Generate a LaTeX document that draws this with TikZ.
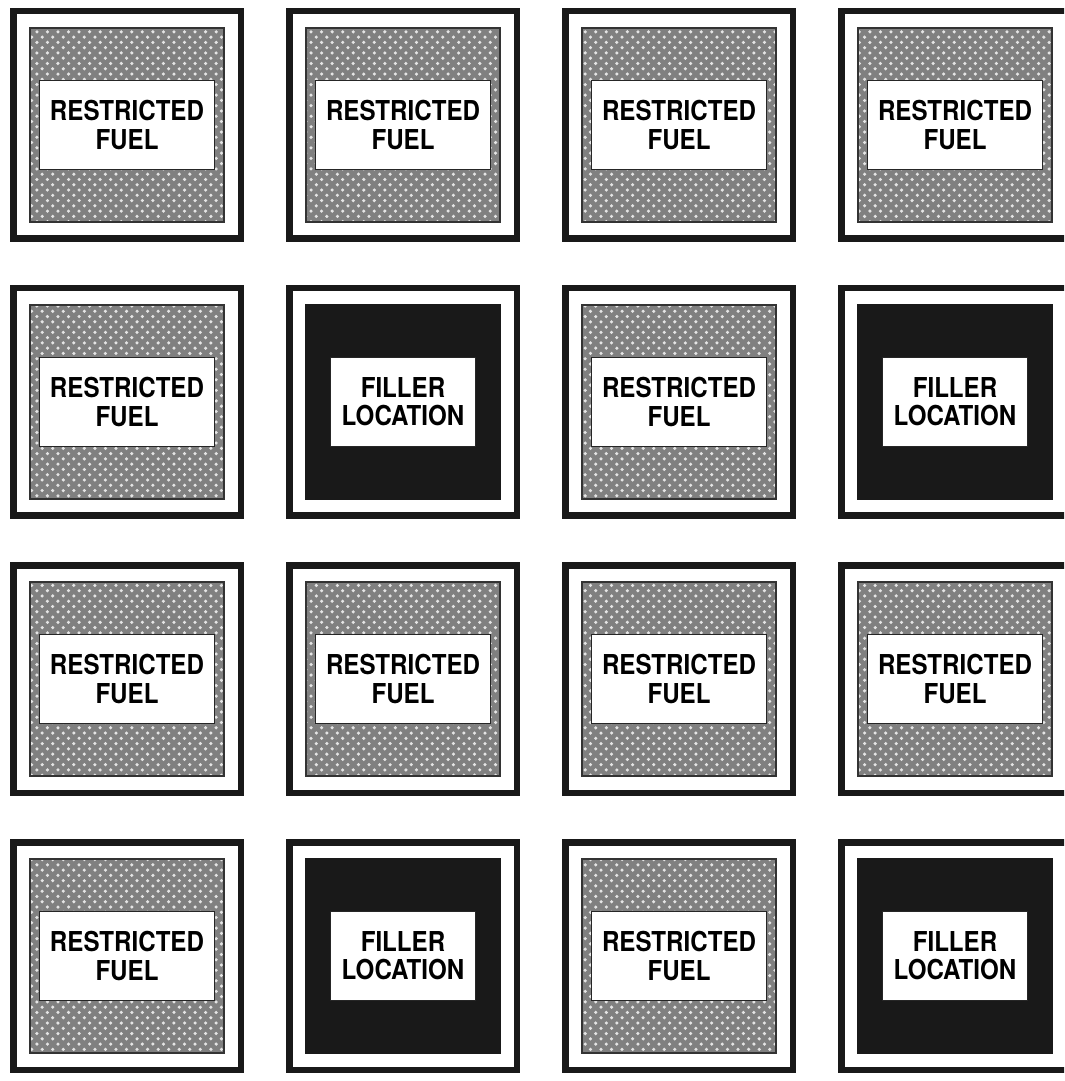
\documentclass[tikz,border=0pt]{standalone}
\usepackage{fontspec}
\newfontfamily\tagfont{TeX Gyre Heros}[FakeStretch=0.88]
\usetikzlibrary{patterns}

\tikzset{
  cell/.style={draw=black!90, line width=0.065cm, fill=white, minimum size=2.275cm, inner sep=0pt},
  coreR/.style={draw=black!80, line width=0.02cm, minimum size=1.94cm, inner sep=0pt,
    preaction={fill=black!50}, pattern=crosshatch dots, pattern color=white!90!black},
  coreF/.style={draw=black!90, line width=0.02cm, fill=black!90, minimum size=1.94cm, inner sep=0pt},
  tagR/.style={draw=black!85, line width=0.015cm, fill=white, minimum width=1.75cm, minimum height=0.89cm,
    inner sep=0pt, align=center, font=\tagfont\bfseries\fontsize{7.8}{8}\selectfont},
  tagF/.style={tagR, minimum width=1.45cm},
}

\def\txtR{RESTRICTED\\FUEL}
\def\txtF{FILLER\\LOCATION}

\begin{document}
\begin{tikzpicture}
  % 枠
  \useasboundingbox (0,0) rectangle (10.64,-10.81);
  \clip (0,0) rectangle (10.64,-10.81);

  % 4x4 の格子 (R = restricted, F = filler)
  \foreach \k [count=\i from 0] in {R,R,R,R, R,F,R,F, R,R,R,R, R,F,R,F}{
    \pgfmathtruncatemacro{\col}{mod(\i,4)}
    \pgfmathtruncatemacro{\row}{int(\i/4)}
    \node[cell] (cell\i) at ({1.27+2.76*\col},{-1.25-2.77*\row}) {};
    \node[core\k] (core\i) at (cell\i) {};
    \node[tag\k] (tag\i) at (core\i) {\csname txt\k\endcsname};
  }
\end{tikzpicture}
\end{document}
